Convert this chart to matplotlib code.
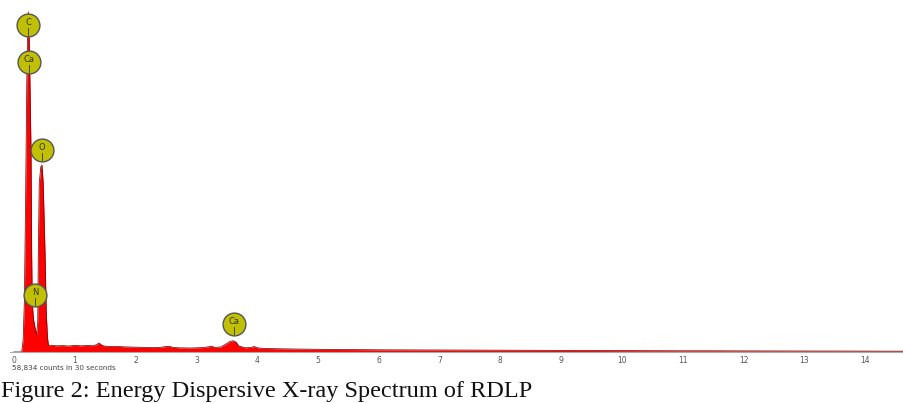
import matplotlib
matplotlib.use("Agg")
import matplotlib.pyplot as plt
import numpy as np

# ---- data (energy in keV, counts) ----
peak_energy = [0.00, 0.10, 0.13, 0.15, 0.17, 0.18, 0.19, 0.20, 0.21, 0.225, 0.235, 0.25,
               0.265, 0.28, 0.29, 0.30, 0.32, 0.35, 0.37, 0.39, 0.40, 0.415, 0.44, 0.46,
               0.48, 0.51, 0.53, 0.55, 0.565, 0.58]
peak_counts = [0, 0, 20, 120, 500, 1000, 1500, 2100, 2700, 3300, 3400, 3100,
               2600, 2000, 1000, 500, 330, 230, 170, 300, 1000, 1690, 1850, 1870,
               1690, 1000, 400, 150, 70, 65]

base_energy = [0.6, 0.7, 0.8, 0.9, 1.0, 1.1, 1.2, 1.3, 1.35, 1.4, 1.45, 1.5, 1.6, 1.7,
               1.8, 1.9, 2.0, 2.1, 2.2, 2.3, 2.4, 2.5, 2.55, 2.6, 2.7, 2.8, 2.9, 3.0,
               3.1, 3.2, 3.25, 3.3, 3.4, 3.5, 3.55, 3.6, 3.65, 3.7, 3.8, 3.9, 3.95,
               4.0, 4.1, 4.3, 4.5, 4.7, 5.0, 5.3, 5.6, 6.0, 6.5, 7.0, 7.5, 8.0, 8.5,
               9.0, 9.5, 10.0, 10.5, 11.0, 11.5, 12.0, 13.0, 14.0, 14.64]
base_counts = [68, 62, 64, 60, 66, 62, 65, 63, 72, 90, 66, 58, 55, 57,
               52, 50, 48, 47, 46, 44, 46, 55, 58, 48, 42, 41, 40, 42,
               44, 52, 58, 46, 50, 85, 105, 113, 100, 60, 42, 46, 55,
               42, 36, 33, 31, 29, 27, 25, 24, 22, 21, 20, 19, 18, 17,
               16, 15, 14, 13, 12, 12, 11, 10, 9, 8]

energy = np.array(peak_energy + base_energy)
counts = np.array(peak_counts + base_counts)

label_names = ["C", "Ca", "O", "N", "Ca"]
label_energy = [0.23, 0.25, 0.465, 0.345, 3.62]

x_ticks = list(range(0, 15))
count_text = "58,834 counts in 30 seconds"
caption = "Figure 2: Energy Dispersive X-ray Spectrum of RDLP"

# ---- layout ----
label_height = [3270, 2900, 2020, 570, 280]

W, H = 904, 403
fig = plt.figure(figsize=(W / 100, H / 100), dpi=100)
ax = fig.add_axes([10 / W, (H - 352) / H, 894 / W, 352 / H])
ax.set_xlim(-0.066, 14.64)
ax.set_ylim(0, 3520)

ax.fill_between(energy, 0, counts, color="#ff0000", linewidth=0, zorder=2)
ax.plot(energy, counts, color="#6e0a0a", lw=0.55, zorder=3)
ax.plot(energy[energy <= 0.13], counts[energy <= 0.13], color="#999999", lw=0.8, zorder=3)

for name, ex, ey in zip(label_names, label_energy, label_height):
    ax.scatter([ex], [ey], s=270, color="#c0c000", edgecolor="#555555",
               linewidth=1.0, zorder=5)
    ax.text(ex, ey + 25, name, ha="center", va="center", fontsize=6,
            color="#333333", zorder=6)
    ax.plot([ex, ex], [ey - 25, ey - 95], color="#333333", lw=0.6, zorder=6)

for s in ["top", "right", "left"]:
    ax.spines[s].set_visible(False)
ax.spines["bottom"].set_color("#aaaaaa")
ax.spines["bottom"].set_linewidth(0.8)
ax.set_yticks([])
ax.set_xticks(x_ticks)
ax.set_xticklabels([str(t) for t in x_ticks])
ax.tick_params(axis="x", length=0, pad=3, labelsize=5.5, labelcolor="#555555")

fig.text(12 / W, 1 - 368 / H, count_text, fontsize=5.2, color="#444444",
         ha="left", va="center")
fig.text(1 / W, 1 - 391 / H, caption, fontsize=17.5, family="Liberation Serif",
         color="#111111", ha="left", va="center")

fig.savefig("out.png", dpi=100)
